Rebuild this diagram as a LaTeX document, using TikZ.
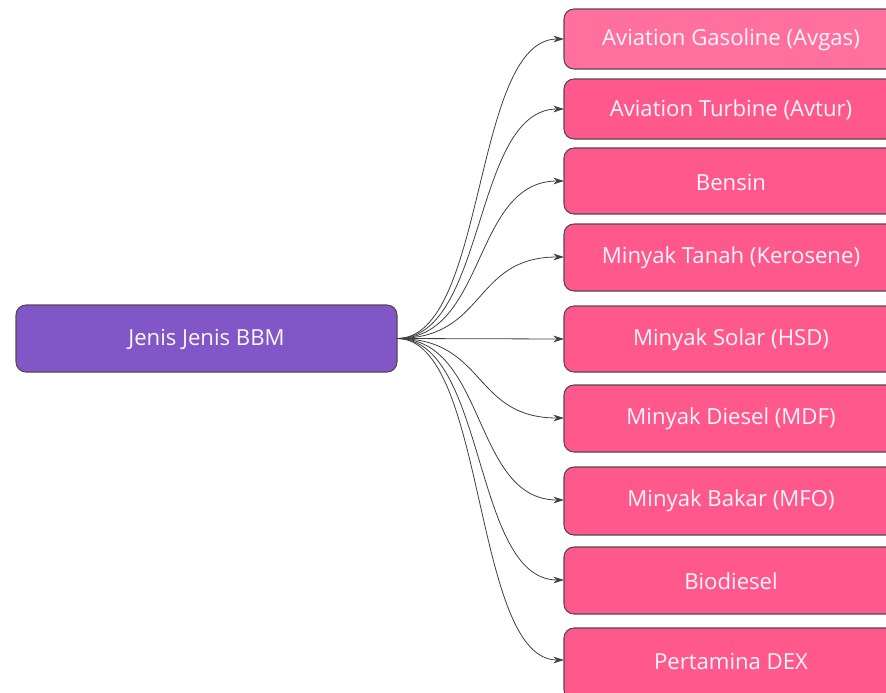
\documentclass[tikz,border=0pt]{standalone}
\usepackage{fontspec}
\setmainfont{Open Sans}
\usetikzlibrary{arrows.meta}
\definecolor{pinkbox}{RGB}{255,88,140}
\definecolor{pinklight}{RGB}{255,112,158}
\definecolor{purplebox}{RGB}{129,86,198}
\definecolor{edgegrey}{RGB}{90,70,80}
\definecolor{textwhite}{RGB}{255,246,250}
\begin{document}
\begin{tikzpicture}[x=0.75pt,y=-0.75pt,
  boxbase/.style={draw=edgegrey,line width=0.8pt,rounded corners=7.5pt},
  leaf/.style={boxbase,fill=pinkbox},
  lbl/.style={text=textwhite,font=\fontsize{16.6}{18}\selectfont,inner sep=0pt},
  conn/.style={draw=black!75,line width=0.6pt,-{Stealth[length=8pt,width=5pt]}}]
\clip (0,0) rectangle (886,693);
\fill[white] (0,0) rectangle (886,693);
% source
\draw[boxbase,fill=purplebox] (16,305) rectangle (397,372);
\node[lbl] (src) at (206.5,339.5) {Jenis Jenis BBM};
\coordinate (srcE) at (397,338.5);
% leaves
\draw[leaf,fill=pinklight] (564,9) rectangle (900,69);
\node[lbl] (t1) at (731,40) {Aviation Gasoline (Avgas)};
\draw[leaf] (564,79) rectangle (900,139);
\node[lbl] (t2) at (731,110) {Aviation Turbine (Avtur)};
\draw[leaf] (564,148) rectangle (900,214);
\node[lbl] (t3) at (731,182) {Bensin};
\draw[leaf] (564,224) rectangle (900,291);
\node[lbl] (t4) at (731,258) {Minyak Tanah (Kerosene)};
\draw[leaf] (564,306) rectangle (900,372);
\node[lbl] (t5) at (731,340) {Minyak Solar (HSD)};
\draw[leaf] (564,385) rectangle (900,452);
\node[lbl] (t6) at (731,419) {Minyak Diesel (MDF)};
\draw[leaf] (564,467) rectangle (900,535);
\node[lbl] (t7) at (731,501) {Minyak Bakar (MFO)};
\draw[leaf] (564,547) rectangle (900,614);
\node[lbl] (t8) at (731,581) {Biodiesel};
\draw[leaf] (564,628) rectangle (900,700);
\node[lbl] (t9) at (731,661) {Pertamina DEX};
% arrow end coordinates (box west sides)
\coordinate (e1) at (564,39);
\coordinate (e2) at (564,109);
\coordinate (e3) at (564,181);
\coordinate (e4) at (564,257);
\coordinate (e5) at (564,339);
\coordinate (e6) at (564,418);
\coordinate (e7) at (564,500);
\coordinate (e8) at (564,580);
\coordinate (e9) at (564,660);
\foreach \e in {e1,e2,e3,e4,e6,e7,e8,e9}{
  \draw[conn] (srcE) .. controls +(90,0) and +(-92,0) .. (\e);
}
\draw[conn] (srcE) -- (e5);
\end{tikzpicture}
\end{document}
